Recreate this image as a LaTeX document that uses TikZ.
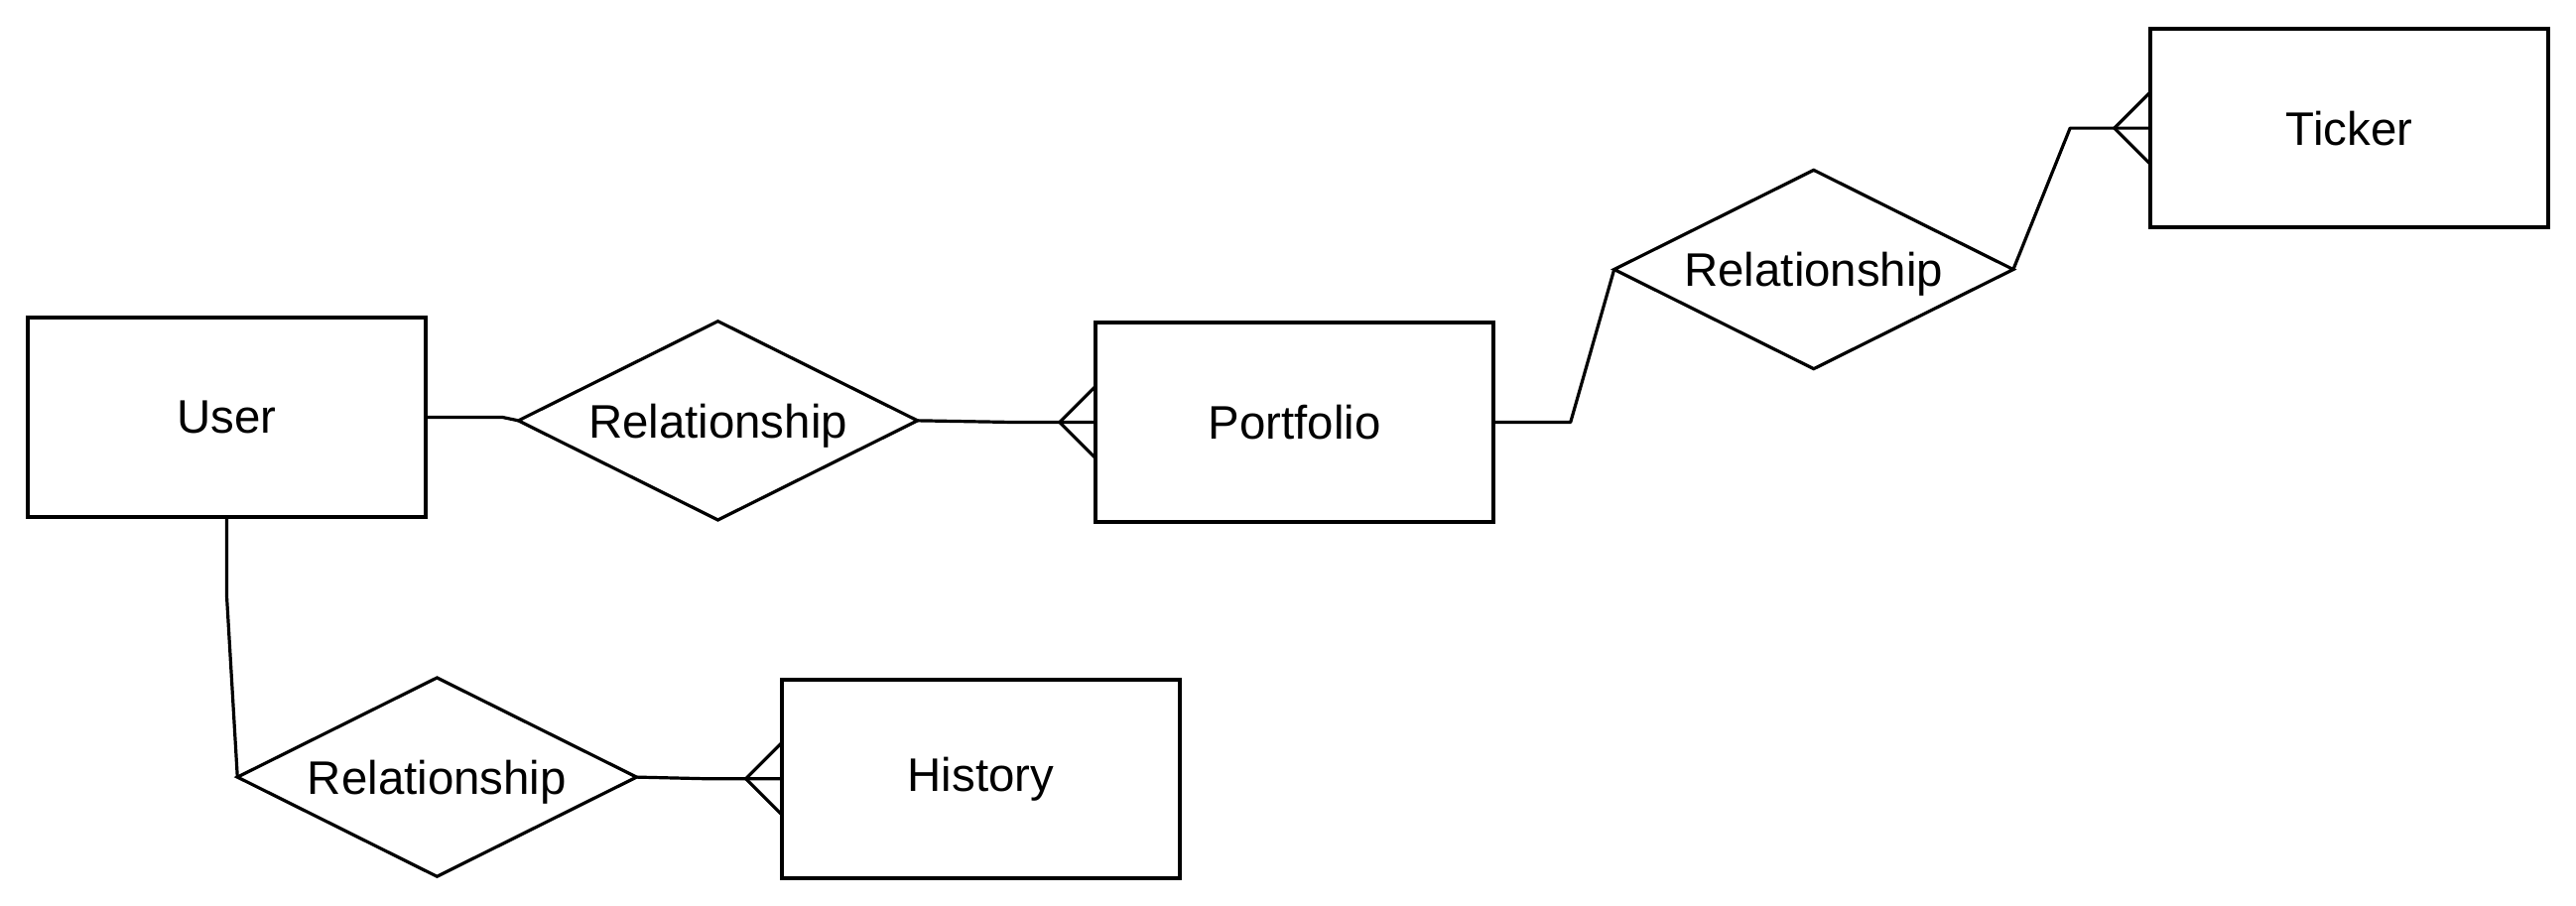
\documentclass[tikz,border=0pt]{standalone}
\usepackage{fontspec}
\setmainfont{Liberation Sans}
\usepackage{tikz}
\usetikzlibrary{shapes.geometric,calc}

\tikzset{
	entity/.style={draw, line width=1.3pt, minimum width=4.84cm, minimum height=2.42cm, inner sep=0pt, outer sep=0pt, font=\fontsize{16.3}{19}\selectfont},
	relation/.style={draw, diamond, aspect=2, line width=1.1pt, minimum width=4.86cm, minimum height=2.42cm, inner sep=0pt, outer sep=0pt, text depth=0pt, font=\fontsize{16.3}{19}\selectfont},
	link/.style={line width=1.1pt, line join=round}
}

\begin{document}
\begin{tikzpicture}[x=0.02cm, y=-0.02cm]
		\useasboundingbox (0,0) rectangle (1568,551);
		% entities
		\node[entity] (user) at (138,254) {User};
		\node[entity] (port) at (788,257) {Portfolio};
		\node[entity] (tick) at (1430,78) {Ticker};
		\node[entity] (hist) at (597,474) {History};
		% relationships
		\node[relation] (relA) at (437,256) {Relationship};
		\node[relation] (relB) at (1104,164) {Relationship};
		\node[relation] (relC) at (266,473) {Relationship};
		% connectors
		\draw[link] (user.east) -- ++(47,0) -- (relA.west);
		\draw[link] (relA.east) -- ++(58,1) -- (port.west);
		\draw[link] (port.east) -- ++(47,0) -- (relB.west);
		\draw[link] (relB.east) -- ($(tick.west)+(-49,0)$) -- (tick.west);
		\draw[link] (user.south) -- ++(0,48) -- (relC.west);
		\draw[link] (relC.east) -- ++(43,1) -- (hist.west);
		% crow's feet
		\foreach \e in {port, tick, hist}{
			\draw[link] ($(\e.west)+(0,-22)$) -- ($(\e.west)+(-22,0)$) -- ($(\e.west)+(0,22)$);
		}
\end{tikzpicture}
\end{document}
